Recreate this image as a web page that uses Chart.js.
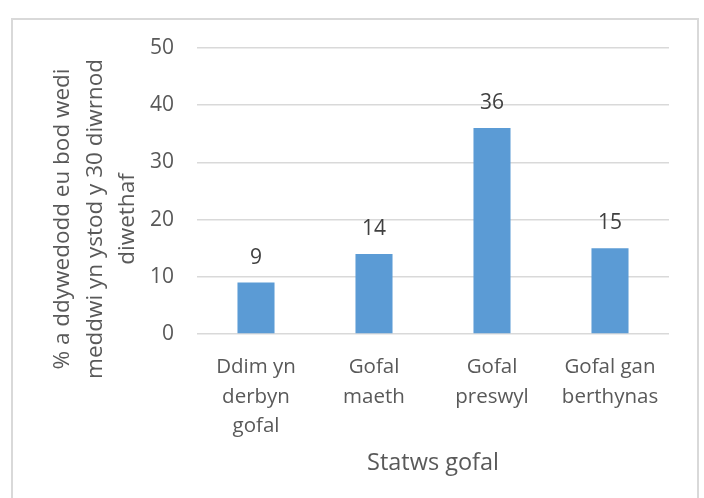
<!DOCTYPE html>
<html>
<head>
<meta charset="utf-8">
<script src="https://cdn.jsdelivr.net/npm/chart.js@4/dist/chart.umd.min.js"></script>
<style>
  html, body { margin: 0; padding: 0; background: #fff; overflow: hidden; }
  #frame { position: absolute; left: 11px; top: 18px; width: 688px; height: 600px; border: 2px solid #d9d9d9; box-sizing: border-box; }
  #chart { position: absolute; left: 0; top: 0; }
</style>
</head>
<body>
<div id="frame"></div>
<canvas id="chart" width="704" height="498"></canvas>
<script>
'use strict';

// datos
const categorias = [['Ddim yn', 'derbyn', 'gofal'], ['Gofal', 'maeth'], ['Gofal', 'preswyl'], ['Gofal gan', 'berthynas']];
const valores = [9, 14, 36, 15];
const tituloY = ['% a ddywedodd eu bod wedi', 'meddwi yn ystod y 30 diwrnod', 'diwethaf'];
const tituloX = 'Statws gofal';

const fuente = '"Open Sans", sans-serif';
const gris = '#595959';

// etiquetas encima de cada barra
const etiquetasBarras = {
    id: 'etiquetasBarras',
    afterDatasetsDraw(chart) {
        const ctx = chart.ctx;
        const meta = chart.getDatasetMeta(0);
        ctx.save();
        ctx.font = '21px ' + fuente;
        ctx.fillStyle = '#404040';
        ctx.textAlign = 'center';
        ctx.textBaseline = 'middle';
        for (let i = 0; i < meta.data.length; i++) {
            let barra = meta.data[i];
            ctx.fillText(String(valores[i]), barra.x, barra.y - 25);
        }
        ctx.restore();
    }
};

// titulo del eje Y (centrado en todo el grafico, no en el area)
const tituloEjeY = {
    id: 'tituloEjeY',
    afterDraw(chart) {
        const ctx = chart.ctx;
        ctx.save();
        ctx.font = '22.5px ' + fuente;
        ctx.fillStyle = gris;
        ctx.textAlign = 'center';
        ctx.textBaseline = 'middle';
        ctx.translate(63, 219);
        ctx.rotate(-Math.PI / 2);
        for (let i = 0; i < tituloY.length; i++) {
            ctx.fillText(tituloY[i], 0, i * 32.5);
        }
        ctx.restore();
    }
};

new Chart(document.getElementById('chart'), {
    type: 'bar',
    data: {
        labels: categorias,
        datasets: [{
            data: valores,
            backgroundColor: '#5b9bd5',
            categoryPercentage: 1,
            barPercentage: 0.314
        }]
    },
    options: {
        responsive: false,
        animation: false,
        layout: { padding: { left: 0, right: 35, top: 48, bottom: 0 } },
        plugins: {
            legend: { display: false },
            tooltip: { enabled: false }
        },
        scales: {
            x: {
                grid: { display: false },
                border: { display: false },
                ticks: {
                    color: gris,
                    font: { family: fuente, size: 20.5, lineHeight: 1.42 },
                    padding: 11,
                    maxRotation: 0,
                    autoSkip: false
                },
                title: {
                    display: true,
                    text: tituloX,
                    color: gris,
                    font: { family: fuente, size: 23.5, lineHeight: 1.2 },
                    padding: { top: 0, bottom: 21 }
                },
                afterFit: (escala) => { escala.height = 164; }
            },
            y: {
                min: 0,
                max: 50,
                ticks: {
                    stepSize: 10,
                    color: gris,
                    font: { family: fuente, size: 21 },
                    padding: 23
                },
                grid: { color: '#d9d9d9', lineWidth: 1.5, drawTicks: false },
                border: { display: false },
                afterFit: (escala) => { escala.width = 197; }
            }
        }
    },
    plugins: [etiquetasBarras, tituloEjeY]
});
</script>
</body>
</html>
